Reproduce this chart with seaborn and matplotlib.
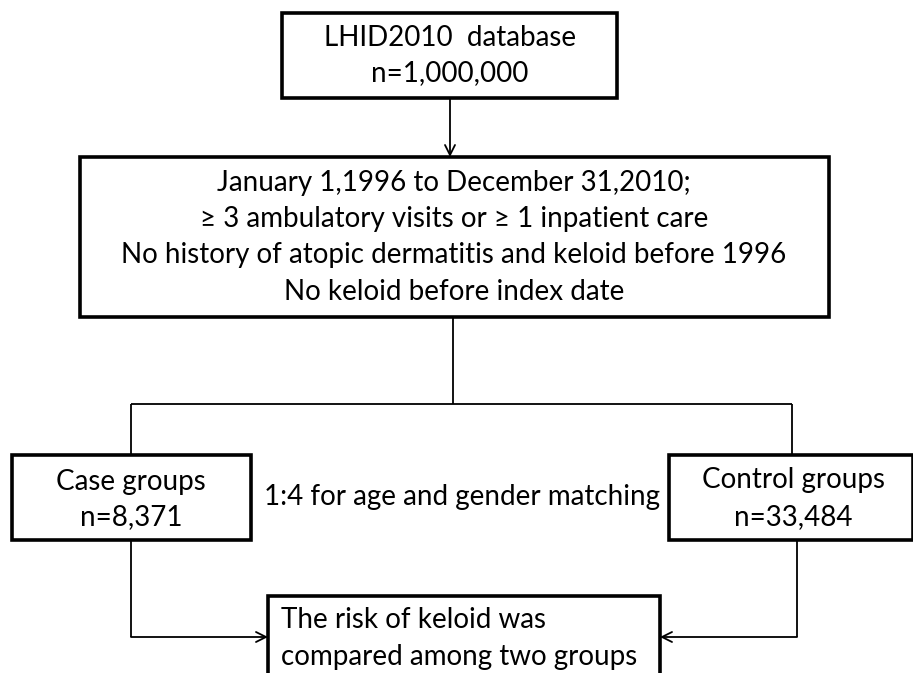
import matplotlib
matplotlib.use("Agg")
import matplotlib.pyplot as plt
from matplotlib.patches import Rectangle
import seaborn as sns

sns.set_theme(style="white")
plt.rcParams['font.family'] = ['Lato', 'DejaVu Sans']

# Flowchart content
top_lines = ["LHID2010  database", "n=1,000,000"]
mid_lines = ["January 1,1996 to December 31,2010;",
             "≥ 3 ambulatory visits or ≥ 1 inpatient care",
             "No history of atopic dermatitis and keloid before 1996",
             "No keloid before index date"]
case_lines = ["Case groups", "n=8,371"]
ctrl_lines = ["Control groups", "n=33,484"]
match_label = "1:4 for age and gender matching"
result_lines = ["The risk of keloid was", "compared among two groups"]

W, H = 913, 673
fig = plt.figure(figsize=(W / 100, H / 100), dpi=100)
ax = fig.add_axes([0, 0, 1, 1])
ax.set_xlim(0, W)
ax.set_ylim(H, 0)
ax.axis("off")

FS = 20
BOX_LW = 2.6
LINE_LW = 1.3


def box(x0, y0, x1, y1):
    ax.add_patch(Rectangle((x0, y0), x1 - x0, y1 - y0, fill=True, facecolor="white",
                           edgecolor="black", lw=BOX_LW, zorder=3))


def lines_text(x, ys, texts, ha="center"):
    for y, t in zip(ys, texts):
        ax.text(x, y, t, ha=ha, va="center", fontsize=FS, color="black", zorder=4)


def seg(xs, ys):
    ax.plot(xs, ys, color="black", lw=LINE_LW, zorder=2, solid_capstyle="butt")


def arrow(x0, y0, x1, y1):
    ax.annotate("", xy=(x1, y1), xytext=(x0, y0),
                arrowprops=dict(arrowstyle="->", color="black", lw=LINE_LW,
                                mutation_scale=18, shrinkA=0, shrinkB=0), zorder=2)


# Top box
box(282, 13, 617, 98)
lines_text(450, [38, 73], top_lines)
arrow(450, 98, 450, 157)

# Middle box
box(80, 157, 829, 317)
lines_text(454, [183, 219, 255, 292], mid_lines)

# Split connector
seg([453, 453], [317, 404])
seg([131, 792], [404, 404])
seg([131, 131], [404, 455])
seg([792, 792], [404, 455])

# Case / control boxes
box(12, 455, 251, 540)
lines_text(131, [482, 517], case_lines)
box(669, 455, 913, 540)
lines_text(793, [480, 517], ctrl_lines)
ax.text(462, 497, match_label, ha="center", va="center", fontsize=FS,
        color="black", zorder=4)

# Bottom box
box(268, 596, 660, 690)
lines_text(281, [620, 657], result_lines, ha="left")

seg([131, 131], [540, 637])
arrow(131, 637, 268, 637)
seg([797, 797], [540, 637])
arrow(797, 637, 660, 637)

fig.savefig("out.png", dpi=100, facecolor="white")
